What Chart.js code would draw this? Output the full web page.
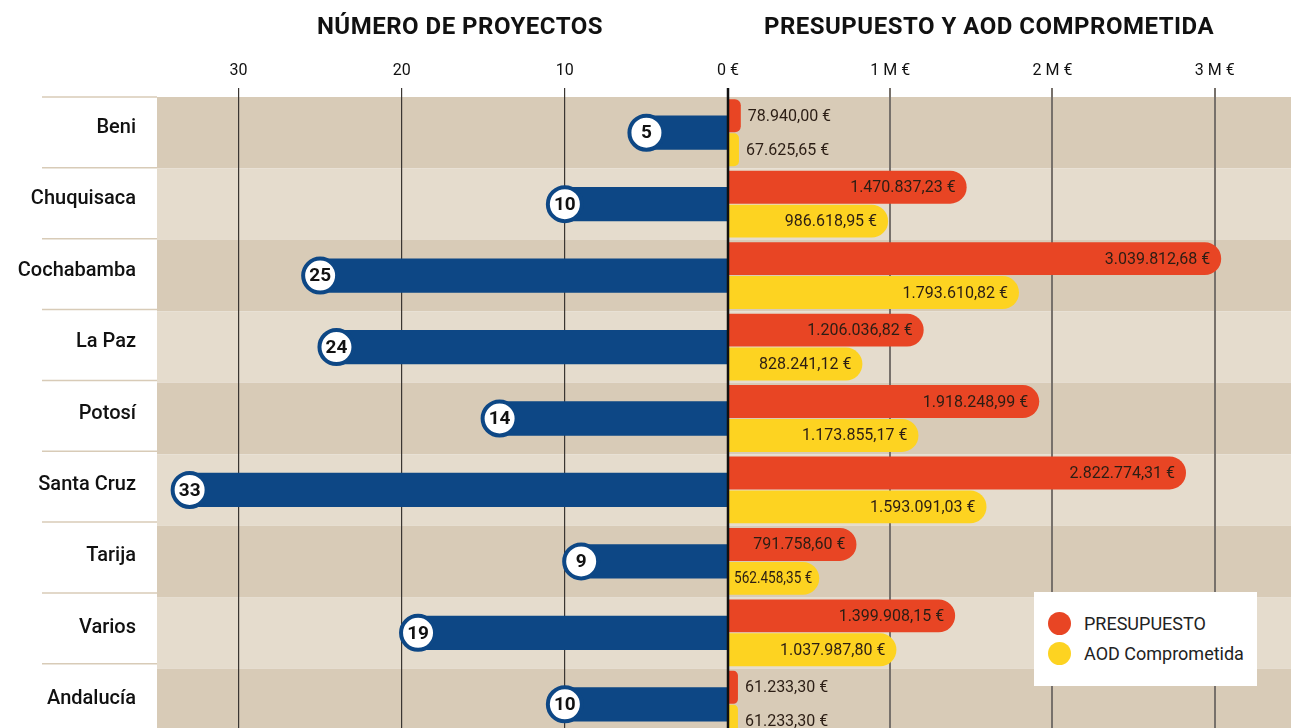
<!DOCTYPE html>
<html>
<head>
<meta charset="utf-8">
<script src="https://cdn.jsdelivr.net/npm/chart.js@4.4.1/dist/chart.umd.min.js"></script>
<style>
  html, body { margin: 0; padding: 0; background: #fff; overflow: hidden; width: 1291px; height: 728px; }
  body { position: relative; font-family: Roboto, "Noto Sans", sans-serif; }
  canvas { position: absolute; top: 0; }
  #left { left: 0; }
  #right { left: 690px; }
  .title { position: absolute; top: 12px; font-weight: 700; font-size: 24px; letter-spacing: 0.5px; color: #111; white-space: nowrap; transform: translateX(-50%); }
  #legend { position: absolute; left: 1034px; top: 592px; width: 223px; height: 94px; background: #fff; }
  #legend div { position: absolute; left: 50px; font-size: 18px; color: #222; }
  #legend span { position: absolute; left: -36px; top: -1px; width: 23px; height: 23px; border-radius: 50%; }
</style>
</head>
<body>
<canvas id="left" width="728" height="740"></canvas>
<canvas id="right" width="601" height="740"></canvas>
<div class="title" style="left:460px">NÚMERO DE PROYECTOS</div>
<div class="title" style="left:989px">PRESUPUESTO Y AOD COMPROMETIDA</div>
<div id="legend">
  <div style="top:21px"><span style="background:#e84524"></span>PRESUPUESTO</div>
  <div style="top:51px"><span style="background:#fdd321"></span>AOD Comprometida</div>
</div>
<script>
// regions and values
const categories = ['Beni', 'Chuquisaca', 'Cochabamba', 'La Paz', 'Potosí', 'Santa Cruz', 'Tarija', 'Varios', 'Andalucía'];
const projects = [5, 10, 25, 24, 14, 33, 9, 19, 10];
const presupuesto = [78940.00, 1470837.23, 3039812.68, 1206036.82, 1918248.99, 2822774.31, 791758.60, 1399908.15, 61233.30];
const aod = [67625.65, 986618.95, 1793610.82, 828241.12, 1173855.17, 1593091.03, 562458.35, 1037987.80, 61233.30];
const projectTicks = [0, 10, 20, 30];
const moneyTicks = [0, 1e6, 2e6, 3e6];

const BLUE = '#0d4785', RED = '#e84524', YELLOW = '#fdd321';
const BAND_DARK = '#d8cbb7', BAND_LIGHT = '#e5dccd';
const FONT = 'Roboto, "Noto Sans", sans-serif';

function euro(v) {
  const parts = v.toFixed(2).split('.');
  const int = parts[0].replace(/\B(?=(\d{3})+(?!\d))/g, '.');
  return int + ',' + parts[1] + ' €';
}

// no extra padding from the category labels
function noPad(s) {
  s.paddingTop = 0;
  s.paddingBottom = 0;
}

// alternating row bands (and the label separators on the left chart)
const bands = {
  id: 'bands',
  beforeDraw(chart, args, opts) {
    const { ctx, chartArea } = chart;
    const y = chart.scales.y;
    const h = y.getPixelForValue(1) - y.getPixelForValue(0);
    ctx.save();
    categories.forEach((c, i) => {
      const top = y.getPixelForValue(i) - h / 2;
      ctx.fillStyle = i % 2 === 0 ? BAND_DARK : BAND_LIGHT;
      ctx.fillRect(chartArea.left, top, chartArea.right - chartArea.left, h);
      if (opts.separators) {
        ctx.strokeStyle = BAND_DARK;
        ctx.lineWidth = 1.5;
        ctx.beginPath();
        ctx.moveTo(42, top - i * 0.6);
        ctx.lineTo(chartArea.left, top - i * 0.6);
        ctx.stroke();
      }
    });
    ctx.restore();
  }
};

// white circles with the project count at the end of each blue bar
const bubbles = {
  id: 'bubbles',
  afterDatasetsDraw(chart) {
    const ctx = chart.ctx;
    const meta = chart.getDatasetMeta(0);
    ctx.save();
    meta.data.forEach((bar, i) => {
      ctx.beginPath();
      ctx.arc(bar.x, bar.y, 17, 0, Math.PI * 2);
      ctx.fillStyle = '#fff';
      ctx.fill();
      ctx.lineWidth = 4;
      ctx.strokeStyle = BLUE;
      ctx.stroke();
      ctx.fillStyle = '#111';
      ctx.font = 'bold 19px ' + FONT;
      ctx.textAlign = 'center';
      ctx.textBaseline = 'middle';
      ctx.fillText(String(projects[i]), bar.x, bar.y + 1);
    });
    ctx.restore();
  }
};

// euro labels on the money bars + the zero line
const moneyLabels = {
  id: 'moneyLabels',
  afterDatasetsDraw(chart) {
    const ctx = chart.ctx;
    ctx.save();
    ctx.font = '16px ' + FONT;
    ctx.textBaseline = 'middle';
    ctx.fillStyle = '#2b1d14';
    chart.data.datasets.forEach((ds, d) => {
      chart.getDatasetMeta(d).data.forEach((bar, i) => {
        const txt = euro(ds.data[i]);
        const w = ctx.measureText(txt).width;
        const barW = bar.x - bar.base;
        if (barW > 60) {
          // inside, right aligned; squeeze a little when the bar is short
          const pad = Math.max(7, Math.min(11, barW - w - 6));
          ctx.textAlign = 'right';
          ctx.fillText(txt, bar.x - pad, bar.y + 1, barW - pad - 5);
        } else {
          ctx.textAlign = 'left';
          ctx.fillText(txt, bar.x + 7, bar.y + 1);
        }
      });
    });
    const x0 = chart.scales.x.getPixelForValue(0);
    ctx.strokeStyle = '#111';
    ctx.lineWidth = 2.5;
    ctx.beginPath();
    ctx.moveTo(x0, chart.chartArea.top - 9);
    ctx.lineTo(x0, chart.chartArea.bottom);
    ctx.stroke();
    ctx.restore();
  }
};

new Chart(document.getElementById('left'), {
  type: 'bar',
  data: {
    labels: categories,
    datasets: [{
      data: projects,
      backgroundColor: BLUE,
      categoryPercentage: 1,
      barPercentage: 0.48
    }]
  },
  options: {
    indexAxis: 'y',
    responsive: false,
    animation: false,
    layout: { padding: 0 },
    plugins: { legend: { display: false }, tooltip: { enabled: false }, bands: { separators: true } },
    scales: {
      x: {
        position: 'top',
        reverse: true,
        min: 0,
        max: 35,
        afterBuildTicks: s => { s.ticks = projectTicks.map(v => ({ value: v })); },
        afterFit: s => { s.height = 97; },
        ticks: {
          padding: 7,
          color: '#111',
          font: { family: FONT, size: 16 },
          callback: v => (v === 0 ? '' : String(v))
        },
        grid: { color: '#3a3632', lineWidth: 1.2, tickLength: 9, drawTicks: true },
        border: { display: false }
      },
      y: {
        afterFit: s => { s.width = 157; noPad(s); },
        ticks: {
          padding: 21,
          labelOffset: -5,
          color: '#111',
          font: { family: FONT, size: 20, weight: '500' }
        },
        grid: { display: false, drawTicks: false },
        border: { display: false }
      }
    }
  },
  plugins: [bands, bubbles]
});

new Chart(document.getElementById('right'), {
  type: 'bar',
  data: {
    labels: categories,
    datasets: [
      { label: 'PRESUPUESTO', data: presupuesto, backgroundColor: RED },
      { label: 'AOD Comprometida', data: aod, backgroundColor: YELLOW }
    ]
  },
  options: {
    indexAxis: 'y',
    responsive: false,
    animation: false,
    layout: { padding: { left: 38 } },
    datasets: {
      bar: {
        categoryPercentage: 0.95,
        barPercentage: 0.97,
        borderSkipped: 'start',
        borderRadius: { topLeft: 0, bottomLeft: 0, topRight: 17, bottomRight: 17 }
      }
    },
    plugins: { legend: { display: false }, tooltip: { enabled: false }, bands: { separators: false } },
    scales: {
      x: {
        position: 'top',
        min: 0,
        max: 3.47e6,
        afterBuildTicks: s => { s.ticks = moneyTicks.map(v => ({ value: v })); },
        afterFit: s => { s.height = 97; },
        ticks: {
          padding: 7,
          color: '#111',
          font: { family: FONT, size: 16 },
          callback: v => (v === 0 ? '0 €' : (v / 1e6) + ' M €')
        },
        grid: {
          color: c => (c.tick && c.tick.value === 0 ? 'rgba(0,0,0,0)' : '#77716b'),
          lineWidth: 2,
          tickLength: 9,
          drawTicks: true
        },
        border: { display: false }
      },
      y: { display: false, afterFit: noPad }
    }
  },
  plugins: [bands, moneyLabels]
});
</script>
</body>
</html>
